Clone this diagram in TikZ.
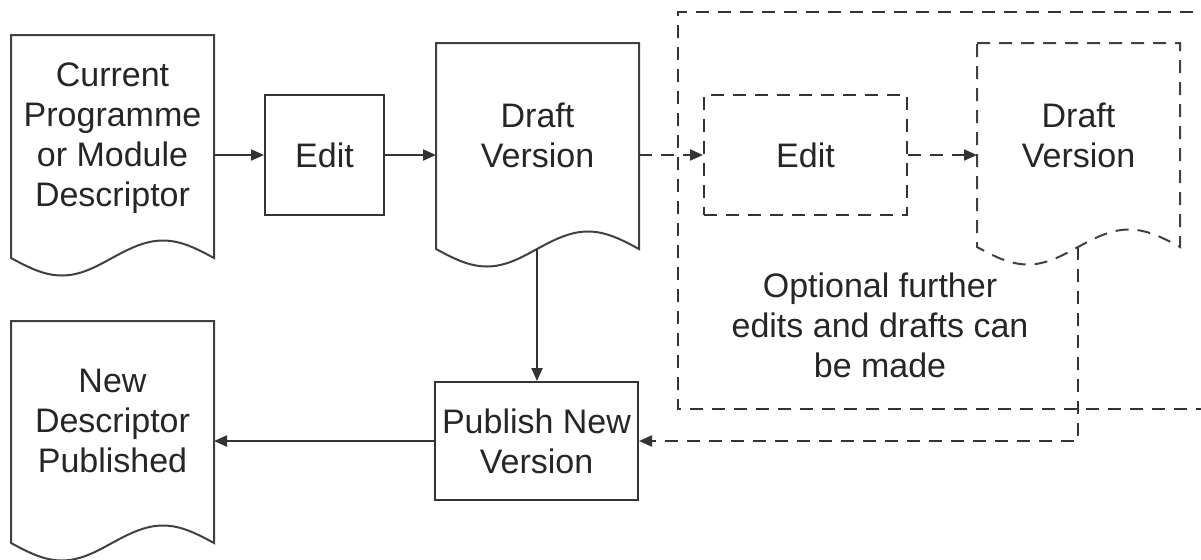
\documentclass[tikz,border=0pt]{standalone}
\usepackage{fontspec}
\setmainfont{Liberation Sans}
\usetikzlibrary{arrows.meta,calc}
\tikzset{
  >={Triangle[length=6.5pt,width=5.5pt]},
  every node/.style={font=\fontsize{17}{20}\selectfont,text=black!85},
  box/.style={draw=black!80,line width=1pt,rectangle,align=center,inner sep=2pt},
  docbox/.style={rectangle,minimum width=101.5pt,align=center,inner sep=2pt,outer sep=0pt},
  optline/.style={dash pattern=on 6.5pt off 4.5pt},
  link/.style={draw=black!80,line width=1pt}
}
% outline of a document: #2 the node, #3 length of its sides
\newcommand{\docoutline}[3][]{
\draw[draw=black!75,line width=1pt,#1](#2.north west)--(#2.north east)--($(#2.north east)+(0,#3)$)
 sin ++(-51,-17.5) cos ++(-51,17.5) coordinate(#2-foot) sin ++(-50,17.5) cos ++(-51,-17.5)--cycle;
}

\begin{document}
\begin{tikzpicture}[x=0.5pt,y=-0.5pt]
\useasboundingbox (0,0) rectangle (1201,559);
\clip (0,0) rectangle (1201,559);
%documents
\node[docbox,minimum height=103pt](cur)at(112.5,138){Current\\Programme\\or Module\\Descriptor};
\node[docbox,minimum height=92pt](draft)at(537.5,135){Draft\\Version};
\node[docbox,minimum height=92pt](drafttwo)at(1078.5,135){Draft\\Version};
\node[docbox,minimum height=100pt](newdesc)at(112.5,421){New\\Descriptor\\Published};
\docoutline{cur}{223}
\docoutline{draft}{206}
\docoutline[optline]{drafttwo}{204}
\docoutline{newdesc}{222}
%process boxes
\node[box,minimum width=59.5pt,minimum height=60pt](edit)at(324.5,155){Edit};
\node[box,optline,minimum width=101.5pt,minimum height=60pt](edittwo)at(805.5,155){Edit};
\node[box,minimum width=101.5pt,minimum height=59pt](publish)at(536.5,441){Publish New\\Version};
%optional region
\draw[link,optline](1215,12)--(678,12)--(678,409)--(1215,409);
\node[align=center](note)at(880,325){Optional further\\edits and drafts can\\be made};
%connectors
\draw[link,->](cur.east |- edit)--(edit);
\draw[link,->](edit)--(edit -| draft.west);
\draw[link,optline,->](draft.east |- edittwo)--(edittwo);
\draw[link,optline,->](edittwo)--(edittwo -| drafttwo.west);
\draw[link,->](draft-foot)--(draft-foot |- publish.north);
\draw[link,optline,->](drafttwo-foot)|-(publish);
\draw[link,->](publish)--(publish -| newdesc.east);
\end{tikzpicture}
\end{document}
